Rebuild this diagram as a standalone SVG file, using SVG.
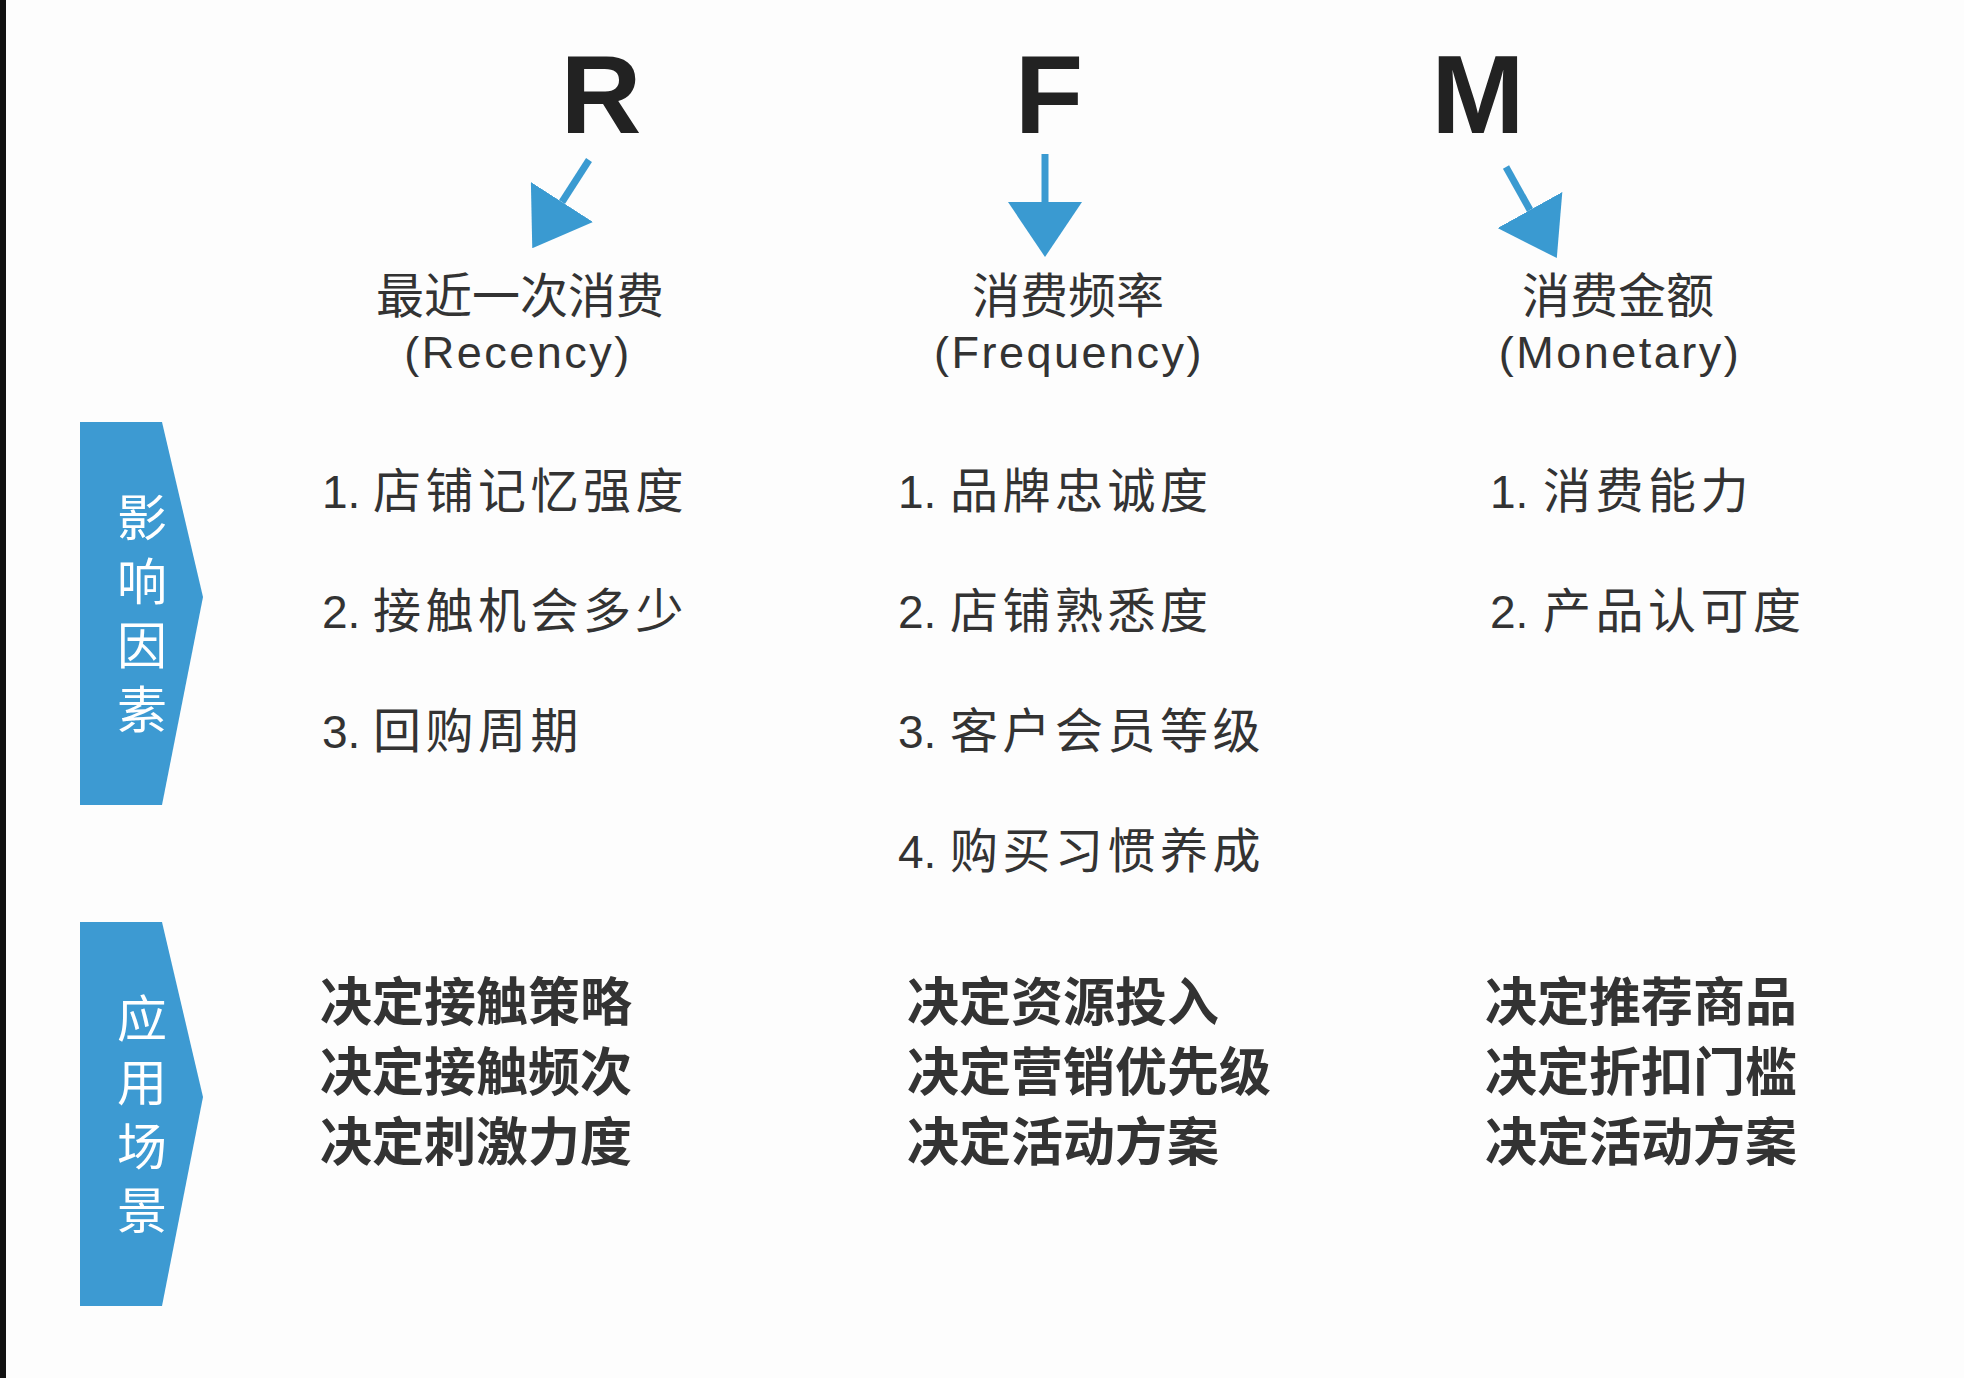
<svg xmlns="http://www.w3.org/2000/svg" width="1964" height="1378" viewBox="0 0 1964 1378">
  <style>
    .big { font-family: "Liberation Sans", Arial, sans-serif; font-weight: bold; font-size: 112px; fill: #222; text-anchor: middle; }
    .ttl { font-family: "Liberation Sans", "Noto Sans CJK SC", sans-serif; font-size: 48px; fill: #333; text-anchor: middle; }
    .sub { font-family: "Liberation Sans", "Noto Sans CJK SC", sans-serif; font-size: 45px; letter-spacing: 2.5px; fill: #333; text-anchor: middle; }
    .li { font-family: "Liberation Sans", "Noto Sans CJK SC", sans-serif; font-size: 46px; fill: #333; }
    .cj { font-family: "Noto Sans CJK SC", sans-serif; font-size: 48px; letter-spacing: 4.5px; }
    .bd { font-family: "Noto Sans CJK SC", sans-serif; font-weight: bold; font-size: 52px; fill: #333; }
    .side { fill: #3d9ad2; }
    .stx { font-family: "Noto Sans CJK SC", sans-serif; font-size: 50px; fill: #fff; writing-mode: vertical-rl; letter-spacing: 14px; }
    .conn { stroke: #3a9ad1; stroke-width: 7; fill: none; }
  </style>
  <defs>
    <marker id="ah" markerUnits="userSpaceOnUse" viewBox="0 0 55 74" refX="0" refY="37" markerWidth="55" markerHeight="74" orient="auto">
      <path d="M0,0 L55,37 L0,74 Z" fill="#3a9ad1"/>
    </marker>
  </defs>
  <rect x="0" y="0" width="1964" height="1378" fill="#fdfdfd"/>
  <rect x="0" y="0" width="6" height="1378" fill="#111"/>

  <g id="R">
    <text class="big" x="601" y="133">R</text>
    <text class="ttl" x="520" y="313">最近一次消费</text>
    <text class="sub" x="518" y="368">(Recency)</text>
  </g>
  <g id="F">
    <text class="big" x="1049" y="133">F</text>
    <text class="ttl" x="1068" y="313">消费频率</text>
    <text class="sub" x="1069" y="368">(Frequency)</text>
  </g>
  <g id="M">
    <text class="big" x="1478" y="133">M</text>
    <text class="ttl" x="1618" y="313">消费金额</text>
    <text class="sub" x="1620" y="368">(Monetary)</text>
  </g>

  <g id="connectors">
    <path class="conn" d="M589,160 L562,202" marker-end="url(#ah)"/>
    <path class="conn" d="M1045,154 L1045,202" marker-end="url(#ah)"/>
    <path class="conn" d="M1506,167 L1530,210" marker-end="url(#ah)"/>
  </g>

  <g id="side-factors">
    <polygon class="side" points="80,422 162,422 203,597 162,805 80,805"/>
    <text class="stx" x="142" y="492">影响因素</text>
  </g>
  <g id="side-scenes">
    <polygon class="side" points="80,922 162,922 203,1097 162,1306 80,1306"/>
    <text class="stx" x="142" y="993">应用场景</text>
  </g>

  <g id="R-factors">
    <text class="li" x="322" y="508">1. <tspan class="cj" x="373">店铺记忆强度</tspan></text>
    <text class="li" x="322" y="628">2. <tspan class="cj" x="373">接触机会多少</tspan></text>
    <text class="li" x="322" y="748">3. <tspan class="cj" x="373">回购周期</tspan></text>
  </g>
  <g id="F-factors">
    <text class="li" x="898" y="508">1. <tspan class="cj" x="950">品牌忠诚度</tspan></text>
    <text class="li" x="898" y="628">2. <tspan class="cj" x="950">店铺熟悉度</tspan></text>
    <text class="li" x="898" y="748">3. <tspan class="cj" x="950">客户会员等级</tspan></text>
    <text class="li" x="898" y="868">4. <tspan class="cj" x="950">购买习惯养成</tspan></text>
  </g>
  <g id="M-factors">
    <text class="li" x="1490" y="508">1. <tspan class="cj" x="1543">消费能力</tspan></text>
    <text class="li" x="1490" y="628">2. <tspan class="cj" x="1543">产品认可度</tspan></text>
  </g>

  <g id="R-scenes">
    <text class="bd" x="320" y="1021">决定接触策略</text>
    <text class="bd" x="320" y="1091">决定接触频次</text>
    <text class="bd" x="320" y="1161">决定刺激力度</text>
  </g>
  <g id="F-scenes">
    <text class="bd" x="907" y="1021">决定资源投入</text>
    <text class="bd" x="907" y="1091">决定营销优先级</text>
    <text class="bd" x="907" y="1161">决定活动方案</text>
  </g>
  <g id="M-scenes">
    <text class="bd" x="1485" y="1021">决定推荐商品</text>
    <text class="bd" x="1485" y="1091">决定折扣门槛</text>
    <text class="bd" x="1485" y="1161">决定活动方案</text>
  </g>
</svg>
